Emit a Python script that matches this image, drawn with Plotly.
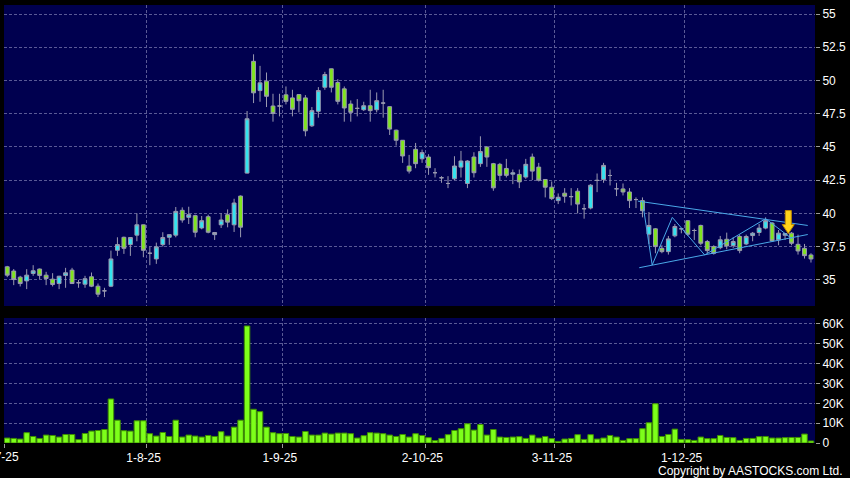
import plotly.graph_objects as go

# ---------------- data ----------------
OPEN = [35.98, 35.66, 35.20, 34.92, 35.48, 35.81, 35.35, 35.05, 34.72, 35.33,
        35.73, 34.78, 34.67, 35.23, 34.52, 34.17, 34.52, 37.22, 38.20, 37.65,
        38.36, 39.14, 37.00, 36.57, 37.65, 38.20, 38.36, 40.23, 39.70, 39.83,
        38.90, 39.75, 38.40, 39.14, 39.90, 39.14, 41.30, 43.03, 51.44, 49.24,
        49.95, 48.08, 48.08, 48.92, 48.69, 48.94, 48.69, 46.59, 47.68, 49.49,
        50.88, 49.85, 49.37, 48.23, 47.90, 47.80, 48.10, 47.80, 48.30, 48.03,
        46.26, 45.50, 43.56, 44.82, 44.11, 44.24, 43.06, 42.68, 42.25, 42.60,
        43.48, 42.25, 44.24, 43.74, 45.00, 43.74, 43.69, 43.38, 42.95, 42.93,
        42.73, 44.24, 43.48, 42.55, 41.97, 40.96, 41.52, 41.26, 41.67, 40.35,
        40.40, 42.48, 42.55, 42.85, 41.85, 41.84, 41.61, 41.04, 40.96, 38.43,
        38.84, 37.37, 37.12, 38.31, 38.84, 39.45, 38.71, 39.09, 37.88, 37.50,
        37.42, 38.05, 37.58, 38.26, 37.70, 38.33, 38.56, 38.89, 39.27, 38.01,
        38.35, 38.51, 37.67, 37.37, 36.87]
HIGH = [36.05, 35.81, 35.30, 35.80, 36.10, 35.85, 35.60, 35.50, 35.30, 35.90,
        35.90, 35.00, 35.30, 35.55, 34.72, 34.40, 37.20, 38.20, 38.25, 38.20,
        40.00, 39.15, 37.50, 37.80, 38.58, 38.40, 40.48, 40.45, 40.50, 39.90,
        39.80, 39.90, 38.60, 40.00, 40.30, 41.10, 41.35, 47.70, 51.97, 51.10,
        50.60, 49.00, 49.00, 49.55, 49.30, 48.95, 48.90, 48.00, 49.50, 50.65,
        50.90, 50.10, 49.55, 48.50, 48.60, 48.40, 49.30, 49.10, 49.30, 48.05,
        46.30, 45.52, 44.40, 45.30, 44.80, 44.45, 43.40, 42.80, 42.80, 44.30,
        44.70, 44.00, 44.60, 45.80, 45.02, 43.80, 43.80, 44.10, 43.30, 43.30,
        44.10, 44.50, 43.80, 42.57, 42.40, 41.50, 41.90, 41.90, 41.90, 40.70,
        42.20, 43.00, 43.80, 43.30, 42.30, 42.25, 41.90, 41.20, 41.20, 40.10,
        38.90, 37.60, 38.30, 39.20, 38.90, 39.50, 38.85, 39.15, 38.00, 37.60,
        38.30, 38.55, 38.20, 38.40, 38.40, 38.60, 39.20, 39.70, 39.35, 38.75,
        38.50, 38.60, 38.40, 37.70, 37.00]
LOW = [35.20, 34.60, 34.50, 34.30, 35.30, 35.05, 34.60, 34.50, 34.30, 34.40,
       34.70, 34.40, 34.40, 34.45, 33.70, 33.70, 34.45, 36.80, 36.95, 36.80,
       37.90, 36.70, 36.10, 36.20, 37.50, 37.63, 38.20, 39.30, 39.20, 38.20,
       38.80, 38.50, 38.00, 38.90, 38.95, 38.60, 38.20, 43.00, 48.30, 48.40,
       48.00, 46.90, 47.30, 48.20, 47.30, 47.60, 45.80, 46.50, 47.20, 49.30,
       49.10, 48.20, 46.90, 46.90, 47.30, 47.70, 46.90, 47.60, 47.20, 45.90,
       45.10, 43.80, 43.00, 43.40, 43.80, 42.90, 42.70, 42.30, 41.90, 42.50,
       42.70, 41.90, 42.70, 43.50, 43.50, 41.70, 42.50, 42.70, 42.20, 41.90,
       42.60, 42.50, 42.40, 41.20, 41.00, 40.70, 40.80, 40.60, 40.00, 39.60,
       40.30, 41.60, 42.30, 42.10, 41.30, 41.35, 40.40, 40.40, 39.70, 37.70,
       37.00, 37.00, 36.90, 38.20, 38.50, 38.30, 38.00, 37.60, 37.00, 36.90,
       37.30, 37.30, 37.40, 37.00, 37.60, 37.90, 38.30, 38.80, 37.90, 37.60,
       38.00, 37.60, 36.90, 36.60, 36.30]
CLOSE = [35.35, 35.02, 34.72, 35.35, 35.68, 35.33, 35.10, 34.65, 35.27, 35.53,
         34.72, 34.78, 35.08, 34.52, 33.92, 34.17, 36.57, 37.65, 37.37, 38.18,
         39.14, 37.22, 37.00, 37.48, 38.18, 38.40, 40.15, 39.50, 39.90, 38.58,
         39.45, 38.58, 38.56, 39.50, 39.34, 40.78, 38.96, 47.12, 49.07, 49.82,
         48.81, 47.52, 48.08, 48.43, 47.83, 48.48, 46.21, 47.73, 49.24, 50.45,
         49.49, 48.43, 47.93, 47.60, 47.90, 48.10, 47.73, 48.48, 48.30, 46.34,
         45.50, 44.32, 43.18, 43.74, 44.57, 43.44, 43.06, 42.68, 42.25, 43.56,
         43.94, 43.94, 43.06, 44.65, 44.24, 41.92, 42.86, 42.86, 43.05, 42.37,
         43.69, 43.18, 42.50, 41.97, 41.11, 41.21, 41.29, 41.26, 40.70, 40.35,
         42.12, 42.48, 43.61, 42.85, 41.85, 41.61, 40.96, 41.04, 40.20, 39.09,
         37.50, 37.12, 38.08, 39.01, 38.84, 38.43, 38.71, 37.75, 37.20, 36.99,
         38.01, 37.55, 37.88, 37.20, 38.26, 38.51, 38.89, 39.45, 37.93, 38.51,
         38.48, 37.75, 37.17, 36.82, 36.57]
VOLUME_K = [2.5, 2.3, 2.0, 5.2, 3.3, 2.3, 4.0, 3.8, 3.0, 4.3,
            4.3, 1.7, 4.8, 6.0, 6.3, 6.8, 22.2, 11.5, 6.2, 6.0,
            11.2, 11.2, 4.7, 3.5, 5.3, 3.3, 11.5, 3.0, 4.0, 3.5,
            3.0, 3.8, 3.3, 5.7, 3.5, 8.0, 11.5, 59.0, 17.0, 15.8,
            8.0, 5.2, 4.7, 4.8, 3.3, 3.0, 5.8, 4.0, 4.0, 5.0,
            4.5, 5.0, 5.0, 4.7, 2.5, 3.7, 5.2, 5.0, 4.7, 4.0,
            3.3, 4.3, 3.0, 4.7, 3.8, 2.7, 1.2, 2.3, 4.2, 6.3,
            7.2, 9.7, 6.5, 9.3, 4.0, 6.8, 3.0, 2.8, 3.0, 3.2,
            2.3, 4.0, 2.5, 3.3, 2.2, 0.8, 2.0, 2.3, 4.2, 1.8,
            4.2, 2.0, 2.5, 3.8, 3.0, 1.3, 2.2, 2.2, 7.2, 10.2,
            19.8, 3.3, 4.3, 7.0, 1.8, 1.7, 1.3, 3.0, 2.2, 2.2,
            3.8, 2.8, 2.7, 1.3, 2.3, 2.3, 3.2, 3.3, 2.5, 2.5,
            2.7, 2.8, 2.8, 4.5, 1.0]
MONTH_LABELS = ["2-7-25", "1-8-25", "1-9-25", "2-10-25", "3-11-25", "1-12-25"]
MONTH_START_IDX = [0, 22, 43, 65, 85, 105]
PRICE_TICKS = [35, 37.5, 40, 42.5, 45, 47.5, 50, 52.5, 55]
VOL_TICKS = [0, 10000, 20000, 30000, 40000, 50000, 60000]
VOL_TICK_TEXT = ["0", "10K", "20K", "30K", "40K", "50K", "60K"]

# triangle / zig-zag drawing (index, price)
UPPER_LINE_X = [97.3, 123.5]
UPPER_LINE_Y = [40.92, 39.09]
LOWER_LINE_X = [97.5, 123.5]
LOWER_LINE_Y = [35.91, 38.41]
ZIGZAG_X = [98.0, 99.5, 102.6, 107.6, 117.0, 121.1]
ZIGZAG_Y = [40.90, 36.11, 39.70, 36.87, 39.60, 38.08]
ARROW_TIP = (120.5, 38.48)

# ---------------- styling ----------------
BG = "#00004f"
GRID = "#5a5a96"
WICK = "#9a9ab0"
CYAN = "#33e3f0"
GREEN = "#80e51e"
VOL_FILL = "#7dff1a"
VOL_EDGE = "#3f8f00"
LINE_BLUE = "#4aa8e8"
FONT = "Liberation Sans"

x = list(range(len(OPEN)))
volume = [v * 1000 for v in VOLUME_K]
tick_pos = [i - 0.5 for i in MONTH_START_IDX]

fig = go.Figure()
fig.add_trace(go.Candlestick(
    x=x, open=OPEN, high=HIGH, low=LOW, close=CLOSE,
    xaxis="x", yaxis="y", whiskerwidth=0,
    increasing=dict(line=dict(color=WICK, width=1), fillcolor=CYAN),
    decreasing=dict(line=dict(color=WICK, width=1), fillcolor=GREEN),
    showlegend=False, hoverinfo="skip"))
fig.add_trace(go.Bar(
    x=x, y=volume, xaxis="x", yaxis="y2",
    marker=dict(color=VOL_FILL, line=dict(color=VOL_EDGE, width=1)),
    showlegend=False, hoverinfo="skip"))
for lx, ly in [(UPPER_LINE_X, UPPER_LINE_Y), (LOWER_LINE_X, LOWER_LINE_Y), (ZIGZAG_X, ZIGZAG_Y)]:
    fig.add_trace(go.Scatter(x=lx, y=ly, mode="lines", xaxis="x", yaxis="y",
                             line=dict(color=LINE_BLUE, width=1),
                             showlegend=False, hoverinfo="skip"))

# yellow down arrow (pixel offsets converted to data units)
PX_X = 1 / 6.48
PX_Y = 1 / 13.29
tx, ty = ARROW_TIP
pts = [(0, 0), (-6, 9), (-3, 9), (-3, 23), (3, 23), (3, 9), (6, 9)]
path = "M " + " L ".join(f"{tx + dx * PX_X:.3f},{ty + dy * PX_Y:.3f}" for dx, dy in pts) + " Z"
fig.add_shape(type="path", path=path, xref="x", yref="y",
              fillcolor="#ffd21a", line=dict(color="#c08a00", width=1))

tick_font = dict(family=FONT, size=12, color="white")
fig.update_layout(
    width=850, height=478,
    paper_bgcolor="black", plot_bgcolor=BG,
    margin=dict(l=4, r=35, t=5, b=35),
    showlegend=False, boxgap=0.15, bargap=0.15,
    font=dict(family=FONT, size=12, color="white"),
    xaxis=dict(domain=[0, 1], anchor="y2", range=[-0.5, 124.62],
               tickvals=tick_pos, ticktext=MONTH_LABELS,
               showgrid=True, gridcolor=GRID, griddash="3px,2px", gridwidth=1,
               ticks="outside", ticklen=4, tickcolor="#9a9a9a", tickfont=tick_font,
               zeroline=False, showline=False, rangeslider=dict(visible=False),
               ticklabelshift=-3),
    yaxis=dict(domain=[0.3128, 1], anchor="x", side="right", range=[33.03, 55.68],
               tickvals=PRICE_TICKS, showgrid=True, gridcolor=GRID, griddash="3px,2px",
               ticks="outside", ticklen=4, tickcolor="#9a9a9a", tickfont=tick_font,
               zeroline=False, showline=False),
    yaxis2=dict(domain=[0, 0.2854], anchor="x", side="right", range=[0, 63025],
                tickvals=VOL_TICKS, ticktext=VOL_TICK_TEXT, showgrid=True,
                gridcolor=GRID, griddash="3px,2px",
                ticks="outside", ticklen=4, tickcolor="#9a9a9a", tickfont=tick_font,
                zeroline=False, showline=False),
    annotations=[
        dict(text="Copyright by AASTOCKS.com Ltd.", xref="paper", yref="paper",
             x=1.037, y=-0.064, xanchor="right", yanchor="middle",
             showarrow=False, font=dict(family=FONT, size=12, color="white")),
        # first month label is clipped by the left edge of the picture
        dict(text=MONTH_LABELS[0], xref="x", yref="paper", x=tick_pos[0], y=-0.032,
             xanchor="center", yanchor="middle", xshift=-3, showarrow=False,
             font=tick_font),
    ],
)

fig.write_html("out.html", config={"displayModeBar": False},
               post_script="document.body.style.margin='0';")
